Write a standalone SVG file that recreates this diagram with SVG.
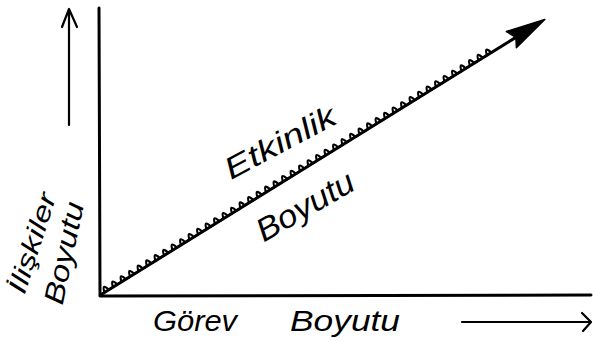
<svg xmlns="http://www.w3.org/2000/svg" width="593" height="343" viewBox="0 0 593 343">
<style>
.ln{stroke:#000;stroke-width:3;fill:none;stroke-linecap:round;stroke-linejoin:round}
.thin{stroke:#000;stroke-width:2.2;fill:none;stroke-linecap:round;stroke-linejoin:round}
.lbl{font-family:"Liberation Sans",Arial,sans-serif;font-style:italic;fill:#000;text-anchor:middle;dominant-baseline:central}
</style>
<rect width="593" height="343" fill="#fff"/>
<g id="axes">
<path class="ln" d="M99,8 L100,296 L591,295"/>
</g>
<g id="connectors">
<path class="thin" d="M69,125 L69,10 M62,27 L69,9 L77,27"/>
<path class="thin" d="M462,322 L590,322 M582,313 L591,322 L583,331"/>
<g id="diagonal" transform="translate(102,294) rotate(-31.8)">
<path class="ln" d="M0,0 L486,0"/>
<path class="thin" stroke-width="1.8" d="M3,0 q2.5,-10 5,0 l5,0 q2.5,-10 5,0 l5,0 q2.5,-10 5,0 l5,0 q2.5,-10 5,0 l5,0 q2.5,-10 5,0 l5,0 q2.5,-10 5,0 l5,0 q2.5,-10 5,0 l5,0 q2.5,-10 5,0 l5,0 q2.5,-10 5,0 l5,0 q2.5,-10 5,0 l5,0 q2.5,-10 5,0 l5,0 q2.5,-10 5,0 l5,0 q2.5,-10 5,0 l5,0 q2.5,-10 5,0 l5,0 q2.5,-10 5,0 l5,0 q2.5,-10 5,0 l5,0 q2.5,-10 5,0 l5,0 q2.5,-10 5,0 l5,0 q2.5,-10 5,0 l5,0 q2.5,-10 5,0 l5,0 q2.5,-10 5,0 l5,0 q2.5,-10 5,0 l5,0 q2.5,-10 5,0 l5,0 q2.5,-10 5,0 l5,0 q2.5,-10 5,0 l5,0 q2.5,-10 5,0 l5,0 q2.5,-10 5,0 l5,0 q2.5,-10 5,0 l5,0 q2.5,-10 5,0 l5,0 q2.5,-10 5,0 l5,0 q2.5,-10 5,0 l5,0 q2.5,-10 5,0 l5,0 q2.5,-10 5,0 l5,0 q2.5,-10 5,0 l5,0 q2.5,-10 5,0 l5,0 q2.5,-10 5,0 l5,0 q2.5,-10 5,0 l5,0 q2.5,-10 5,0 l5,0 q2.5,-10 5,0 l5,0 q2.5,-10 5,0 l5,0 q2.5,-10 5,0 l5,0 q2.5,-10 5,0 l5,0 q2.5,-10 5,0 l5,0 q2.5,-10 5,0 l5,0 q2.5,-10 5,0 l5,0 q2.5,-10 5,0"/>
<path fill="#000" stroke="#000" stroke-width="1.5" stroke-linejoin="round" d="M521,0 L482,-10 L487,0 L482,9 Z"/>
</g>
</g>
<g id="label-etkinlik">
<text class="lbl" style="font-size:30px" transform="translate(280,142) rotate(-28)" textLength="122" lengthAdjust="spacingAndGlyphs">Etkinlik</text>
</g>
<g id="label-boyutu-diag">
<text class="lbl" style="font-size:32px" transform="translate(305,206) rotate(-30)" textLength="108" lengthAdjust="spacingAndGlyphs">Boyutu</text>
</g>
<g id="label-iliskiler">
<text class="lbl" style="font-size:26px" transform="translate(32,243) rotate(-72)" textLength="104" lengthAdjust="spacingAndGlyphs">İlişkiler</text>
<text class="lbl" style="font-size:28px" transform="translate(64,253) rotate(-78)" textLength="104" lengthAdjust="spacingAndGlyphs">Boyutu</text>
</g>
<g id="label-gorev">
<text class="lbl" style="font-size:30px" x="195" y="320" textLength="84" lengthAdjust="spacingAndGlyphs">Görev</text>
<text class="lbl" style="font-size:30px" x="345" y="320" textLength="110" lengthAdjust="spacingAndGlyphs">Boyutu</text>
</g>
</svg>
